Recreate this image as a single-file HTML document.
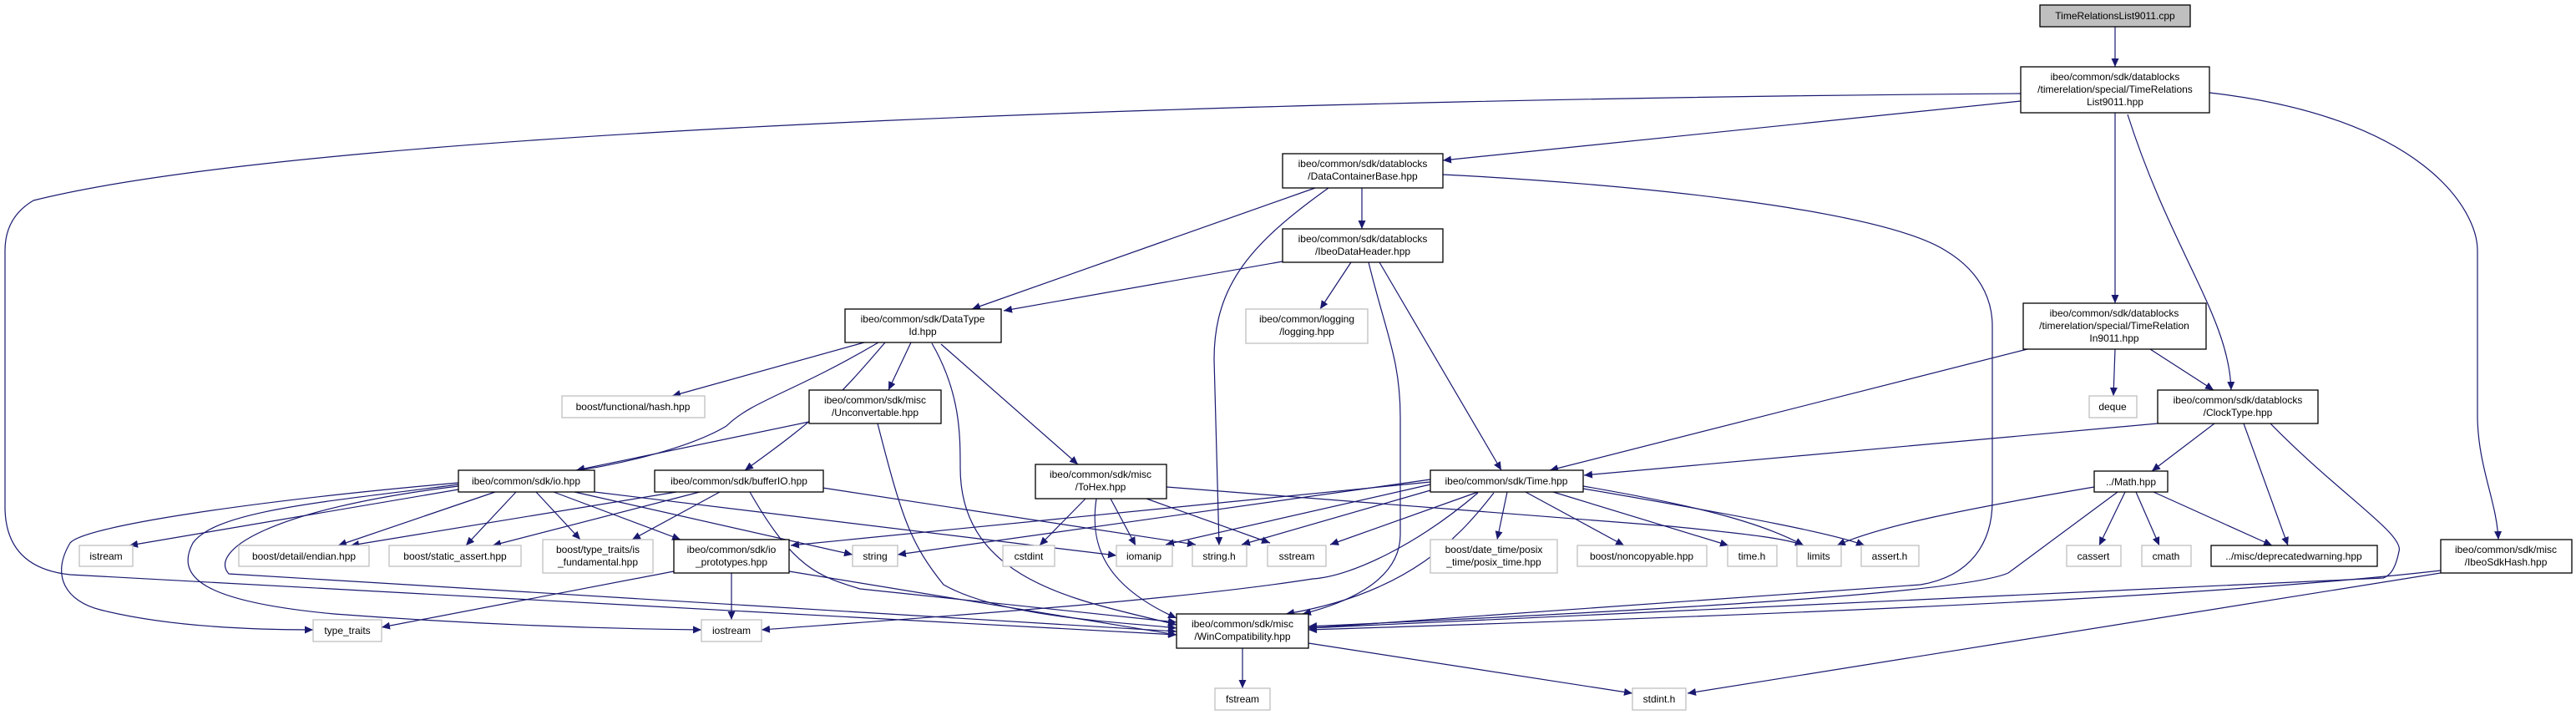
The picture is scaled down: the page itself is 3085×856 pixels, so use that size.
<!DOCTYPE html>
<html><head><meta charset="utf-8"><style>
html,body{margin:0;padding:0;background:#fff;}
svg{display:block;}
text{font-family:"Liberation Sans",Arial,sans-serif;font-size:12px;fill:#000;text-anchor:middle;}
.e{fill:none;stroke:#191970;stroke-width:1.2;marker-end:url(#a);}
.n{fill:#fff;stroke:#000;stroke-width:1.3;}
.g{fill:#fff;stroke:#bfbfbf;stroke-width:1.3;}
</style></head><body>
<svg width="3085" height="856" viewBox="0 0 3085 856" xmlns="http://www.w3.org/2000/svg">
<defs><marker id="a" markerUnits="userSpaceOnUse" markerWidth="11" markerHeight="9" refX="10" refY="4.5" orient="auto"><path d="M0,0 L10,4.5 L0,9 z" fill="#191970"/></marker></defs>
<g>
<path class="e" d="M2533 32 L2533 80"/>
<path class="e" d="M2420 121 L1728 192"/>
<path class="e" d="M2420 112 C1600 118 400 150 40 240 Q6 260 6 300 L6 610 Q8 680 84 688 L1409 760"/>
<path class="e" d="M2533 135 L2533 363"/>
<path class="e" d="M2548 137 C2600 300 2670 380 2672 467"/>
<path class="e" d="M2646 111 C2900 140 2967 250 2967 300 L2967 500 C2968 560 2990 600 2992 646"/>
<path class="e" d="M1575 225 L1164 370"/>
<path class="e" d="M1631 225 L1631 274"/>
<path class="e" d="M1591 225 C1500 290 1454 340 1454 430 L1460 653"/>
<path class="e" d="M1728 209 C1950 220 2250 250 2330 300 C2380 330 2386 370 2386 390 L2386 600 C2386 650 2360 690 2300 700 L1567 752"/>
<path class="e" d="M1536 313 L1202 372"/>
<path class="e" d="M1618 314 L1581 370"/>
<path class="e" d="M1639 314 C1660 400 1677 430 1677 500 L1677 640 C1677 700 1600 725 1560 735"/>
<path class="e" d="M1652 314 L1798 563"/>
<path class="e" d="M1035 410 L805 474"/>
<path class="e" d="M1052 410 C950 470 900 480 870 510 C820 540 720 560 690 563"/>
<path class="e" d="M1060 410 C1000 480 980 500 892 563"/>
<path class="e" d="M1091 410 L1064 467"/>
<path class="e" d="M1127 412 L1291 556"/>
<path class="e" d="M1116 411 C1150 470 1150 520 1150 560 C1150 700 1300 720 1409 748"/>
<path class="e" d="M969 505 L690 563"/>
<path class="e" d="M1051 507 C1080 620 1090 650 1130 700 C1200 740 1350 745 1409 752"/>
<path class="e" d="M549 586 L155 653"/>
<path class="e" d="M593 589 L405 653"/>
<path class="e" d="M618 589 L558 653"/>
<path class="e" d="M642 589 L695 646"/>
<path class="e" d="M663 589 L815 646"/>
<path class="e" d="M688 589 L1021 664"/>
<path class="e" d="M712 589 L1337 665"/>
<path class="e" d="M549 578 C300 600 100 630 84 650 C60 690 80 720 120 730 C200 750 300 754 375 754"/>
<path class="e" d="M549 580 C400 600 260 610 231 650 C210 690 240 720 400 735 C600 750 750 753 840 754"/>
<path class="e" d="M549 582 C320 610 250 660 274 687 L1409 756"/>
<path class="e" d="M810 589 L420 653"/>
<path class="e" d="M838 589 L590 653"/>
<path class="e" d="M862 589 L757 646"/>
<path class="e" d="M898 589 C950 680 980 690 1030 705 L1409 745"/>
<path class="e" d="M985 584 L1432 652"/>
<path class="e" d="M807 684 L457 751"/>
<path class="e" d="M876 686 L876 742"/>
<path class="e" d="M945 684 L1409 760"/>
<path class="e" d="M1300 597 L1245 653"/>
<path class="e" d="M1330 597 L1360 653"/>
<path class="e" d="M1373 597 L1521 650"/>
<path class="e" d="M1313 597 C1305 650 1320 700 1409 740"/>
<path class="e" d="M1397 583 L2000 630 C2100 640 2140 645 2160 653"/>
<path class="e" d="M1713 580 L1396 652"/>
<path class="e" d="M1720 585 L1487 652"/>
<path class="e" d="M1770 589 L1593 652"/>
<path class="e" d="M1805 589 L1793 646"/>
<path class="e" d="M1827 589 L1945 653"/>
<path class="e" d="M1860 589 L2070 653"/>
<path class="e" d="M1896 582 C2000 600 2100 620 2160 653"/>
<path class="e" d="M1896 585 C2100 620 2200 640 2233 653"/>
<path class="e" d="M1789 590 C1750 640 1690 710 1540 735"/>
<path class="e" d="M1713 574 L1075 664"/>
<path class="e" d="M1713 577 L947 653"/>
<path class="e" d="M1770 590 C1700 650 1620 690 1572 693 C1400 720 1100 740 912 754"/>
<path class="e" d="M2584 507 L1897 569"/>
<path class="e" d="M2428 418 L1856 563"/>
<path class="e" d="M2533 418 L2531 474"/>
<path class="e" d="M2575 418 L2651 467"/>
<path class="e" d="M2652 507 L2577 564"/>
<path class="e" d="M2687 507 L2740 653"/>
<path class="e" d="M2719 507 C2800 590 2880 640 2873 660 C2868 685 2860 690 2854 692 L1567 752"/>
<path class="e" d="M2508 583 C2350 610 2250 630 2200 653"/>
<path class="e" d="M2545 589 L2514 653"/>
<path class="e" d="M2558 589 L2586 653"/>
<path class="e" d="M2579 589 L2721 653"/>
<path class="e" d="M2536 589 L2405 686 C2350 710 2000 730 1567 750"/>
<path class="e" d="M2923 683 C2600 720 2000 740 1567 754"/>
<path class="e" d="M2923 686 L2021 830"/>
<path class="e" d="M1488 776 L1488 824"/>
<path class="e" d="M1567 770 L1955 830"/>
</g>
<g>
<rect x="2443" y="6" width="180" height="26" fill="#bfbfbf" stroke="#000" stroke-width="1.3"/><text x="2533" y="23">TimeRelationsList9011.cpp</text>
<rect class="n" x="2420" y="80" width="226" height="55"/><text x="2533" y="96">ibeo/common/sdk/datablocks</text><text x="2533" y="111">/timerelation/special/TimeRelations</text><text x="2533" y="126">List9011.hpp</text>
<rect class="n" x="2423" y="363" width="219" height="55"/><text x="2532" y="379">ibeo/common/sdk/datablocks</text><text x="2532" y="394">/timerelation/special/TimeRelation</text><text x="2532" y="409">In9011.hpp</text>
<rect class="n" x="1536" y="184" width="192" height="41"/><text x="1632" y="200">ibeo/common/sdk/datablocks</text><text x="1632" y="215">/DataContainerBase.hpp</text>
<rect class="n" x="1536" y="274" width="192" height="40"/><text x="1632" y="290">ibeo/common/sdk/datablocks</text><text x="1632" y="305">/IbeoDataHeader.hpp</text>
<rect class="g" x="1492" y="370" width="146" height="41"/><text x="1565" y="386">ibeo/common/logging</text><text x="1565" y="401">/logging.hpp</text>
<rect class="n" x="1012" y="370" width="187" height="40"/><text x="1105" y="386">ibeo/common/sdk/DataType</text><text x="1105" y="401">Id.hpp</text>
<rect class="g" x="673" y="474" width="171" height="26"/><text x="758" y="491">boost/functional/hash.hpp</text>
<rect class="n" x="969" y="467" width="158" height="40"/><text x="1048" y="483">ibeo/common/sdk/misc</text><text x="1048" y="498">/Unconvertable.hpp</text>
<rect class="n" x="1240" y="556" width="157" height="41"/><text x="1318" y="572">ibeo/common/sdk/misc</text><text x="1318" y="587">/ToHex.hpp</text>
<rect class="n" x="1713" y="563" width="183" height="26"/><text x="1804" y="580">ibeo/common/sdk/Time.hpp</text>
<rect class="n" x="549" y="563" width="163" height="26"/><text x="630" y="580">ibeo/common/sdk/io.hpp</text>
<rect class="n" x="784" y="563" width="202" height="26"/><text x="885" y="580">ibeo/common/sdk/bufferIO.hpp</text>
<rect class="g" x="2502" y="474" width="57" height="26"/><text x="2530" y="491">deque</text>
<rect class="n" x="2584" y="467" width="192" height="40"/><text x="2680" y="483">ibeo/common/sdk/datablocks</text><text x="2680" y="498">/ClockType.hpp</text>
<rect class="n" x="2508" y="564" width="88" height="25"/><text x="2552" y="581">../Math.hpp</text>
<rect class="g" x="95" y="653" width="64" height="25"/><text x="127" y="670">istream</text>
<rect class="g" x="286" y="653" width="156" height="25"/><text x="364" y="670">boost/detail/endian.hpp</text>
<rect class="g" x="466" y="653" width="158" height="25"/><text x="545" y="670">boost/static_assert.hpp</text>
<rect class="g" x="650" y="646" width="132" height="40"/><text x="716" y="662">boost/type_traits/is</text><text x="716" y="677">_fundamental.hpp</text>
<rect class="n" x="807" y="646" width="138" height="40"/><text x="876" y="662">ibeo/common/sdk/io</text><text x="876" y="677">_prototypes.hpp</text>
<rect class="g" x="1021" y="653" width="54" height="25"/><text x="1048" y="670">string</text>
<rect class="g" x="1201" y="653" width="62" height="25"/><text x="1232" y="670">cstdint</text>
<rect class="g" x="1337" y="653" width="67" height="25"/><text x="1370" y="670">iomanip</text>
<rect class="g" x="1428" y="653" width="65" height="25"/><text x="1460" y="670">string.h</text>
<rect class="g" x="1518" y="653" width="70" height="25"/><text x="1553" y="670">sstream</text>
<rect class="g" x="1713" y="646" width="152" height="40"/><text x="1789" y="662">boost/date_time/posix</text><text x="1789" y="677">_time/posix_time.hpp</text>
<rect class="g" x="1889" y="653" width="155" height="25"/><text x="1966" y="670">boost/noncopyable.hpp</text>
<rect class="g" x="2069" y="653" width="59" height="25"/><text x="2098" y="670">time.h</text>
<rect class="g" x="2152" y="653" width="53" height="25"/><text x="2178" y="670">limits</text>
<rect class="g" x="2229" y="653" width="69" height="25"/><text x="2263" y="670">assert.h</text>
<rect class="g" x="2475" y="653" width="65" height="25"/><text x="2507" y="670">cassert</text>
<rect class="g" x="2565" y="653" width="59" height="25"/><text x="2594" y="670">cmath</text>
<rect class="n" x="2648" y="653" width="199" height="25"/><text x="2747" y="670">../misc/deprecatedwarning.hpp</text>
<rect class="n" x="2923" y="646" width="157" height="40"/><text x="3001" y="662">ibeo/common/sdk/misc</text><text x="3001" y="677">/IbeoSdkHash.hpp</text>
<rect class="g" x="375" y="742" width="82" height="26"/><text x="416" y="759">type_traits</text>
<rect class="g" x="840" y="742" width="72" height="26"/><text x="876" y="759">iostream</text>
<rect class="n" x="1409" y="735" width="158" height="41"/><text x="1488" y="751">ibeo/common/sdk/misc</text><text x="1488" y="766">/WinCompatibility.hpp</text>
<rect class="g" x="1455" y="824" width="66" height="26"/><text x="1488" y="841">fstream</text>
<rect class="g" x="1955" y="824" width="64" height="26"/><text x="1987" y="841">stdint.h</text>
</g>
</svg>
</body></html>
